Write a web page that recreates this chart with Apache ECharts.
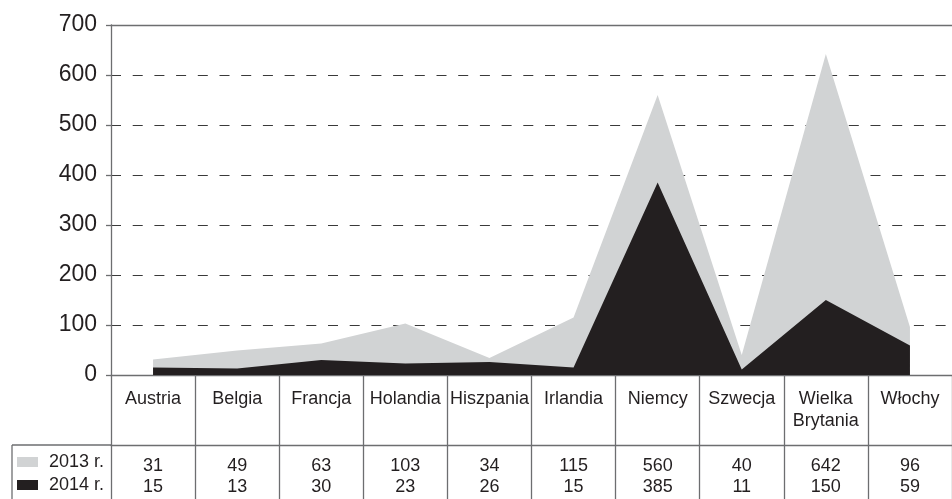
<!DOCTYPE html>
<html>
<head>
<meta charset="utf-8">
<script src="https://cdn.jsdelivr.net/npm/echarts@6/dist/echarts.min.js"></script>
<style>
html,body{margin:0;padding:0;background:#fff;}
#c{width:952px;height:499px;}
</style>
</head>
<body>
<div id="c"></div>
<script>
const categories = ['Austria','Belgia','Francja','Holandia','Hiszpania','Irlandia','Niemcy','Szwecja','Wielka\nBrytania','Włochy'];
const values2013 = [31,49,63,103,34,115,560,40,642,96];
const values2014 = [15,13,30,23,26,15,385,11,150,59];
const seriesNames = ['2013 r.','2014 r.'];
const yTicks = [0,100,200,300,400,500,600,700];

const FONT = '"Liberation Sans", Arial, sans-serif';
const TXT = '#231f20';
const LINE = '#6d6e70';
const GRAY = '#d1d3d4';
const BLACK = '#231f20';

const chart = echarts.init(document.getElementById('c'), null, {renderer:'canvas'});
chart.setOption({
  animation:false,
  backgroundColor:'#fff',
  textStyle:{fontFamily:FONT},
  grid:{left:111, right:-7, top:25, bottom:124, containLabel:false},
  legend:{
    orient:'vertical', left:17, top:453, padding:0, itemWidth:21, itemHeight:10, itemGap:5,
    icon:'rect', height:60,
    textStyle:{fontFamily:FONT, fontSize:18, color:TXT, padding:[0,0,0,6]},
    data:seriesNames
  },
  xAxis:[
    {
      type:'category', data:categories, boundaryGap:true, position:'bottom',
      axisLine:{show:true, lineStyle:{color:LINE, width:1.3}},
      axisTick:{show:true, length:124, interval:0, lineStyle:{color:LINE, width:1.3}},
      axisLabel:{interval:0, margin:13, fontSize:18, lineHeight:22, color:TXT, fontFamily:FONT},
      splitLine:{show:false}
    },
    {
      type:'category', data:categories, boundaryGap:true, position:'bottom', offset:70,
      axisLine:{show:true, lineStyle:{color:LINE, width:1.3}},
      axisTick:{show:false},
      axisLabel:{interval:0, margin:11, fontSize:18, lineHeight:21, color:TXT, fontFamily:FONT,
        formatter:function(v, i){ return values2013[i] + '\n' + values2014[i]; }},
      splitLine:{show:false}
    },
    {
      type:'category', data:categories, boundaryGap:true, position:'top',
      axisLine:{show:true, lineStyle:{color:LINE, width:1.3}},
      axisTick:{show:false}, axisLabel:{show:false}, splitLine:{show:false}
    }
  ],
  yAxis:{
    type:'value', min:yTicks[0], max:yTicks[yTicks.length-1], interval:100,
    axisLine:{show:true, lineStyle:{color:LINE, width:1.3}},
    axisTick:{show:true, length:5, lineStyle:{color:LINE, width:1.3}},
    axisLabel:{fontSize:23, color:TXT, margin:14, fontFamily:FONT},
    splitLine:{show:true, lineStyle:{color:'#3a3a3a', width:1.2, type:[10,11.7], dashOffset:0}}
  },
  series:[
    {
      name:seriesNames[0], type:'line', xAxisIndex:0, data:values2013, symbol:'none',
      color:GRAY, lineStyle:{width:0, color:GRAY}, itemStyle:{color:GRAY},
      areaStyle:{color:GRAY, opacity:1}, z:2
    },
    {
      name:seriesNames[1], type:'line', xAxisIndex:0, data:values2014, symbol:'none',
      color:BLACK, lineStyle:{width:0, color:BLACK}, itemStyle:{color:BLACK},
      areaStyle:{color:BLACK, opacity:1}, z:3
    }
  ],
  graphic:[
    {type:'line', shape:{x1:12, y1:445, x2:111, y2:445}, style:{stroke:LINE, lineWidth:1.3}, silent:true},
    {type:'line', shape:{x1:12, y1:445, x2:12, y2:499}, style:{stroke:LINE, lineWidth:1.3}, silent:true}
  ]
});
</script>
</body>
</html>
